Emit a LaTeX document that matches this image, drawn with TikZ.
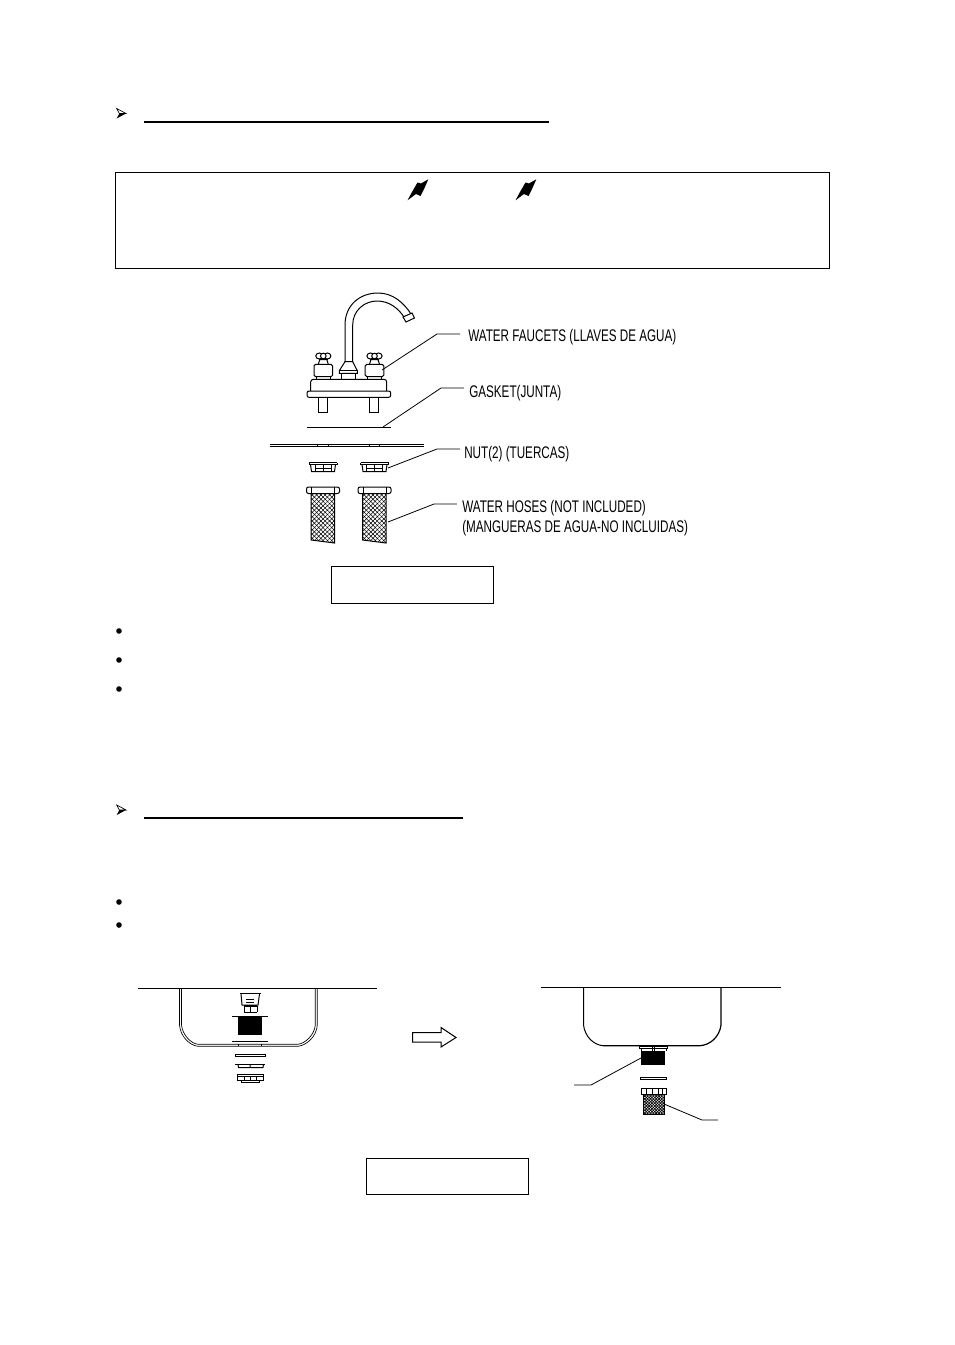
\documentclass[tikz,border=0pt]{standalone}
\usepackage{fontspec}
\usetikzlibrary{patterns.meta}
\newfontfamily\narrowlabel[FakeStretch=0.695]{Liberation Sans}
\tikzset{
  thin line/.style={line width=0.75pt,black},
  hair/.style={line width=0.5pt,black},
  heavy/.style={line width=1.5pt,black},
  frame box/.style={draw=black,line width=0.7pt,fill=none,inner sep=0pt,rectangle},
  part label/.style={font=\narrowlabel\fontsize{12.6pt}{15pt}\selectfont,anchor=west,inner sep=0pt,align=left,text=black},
  leader/.style={line width=0.6pt,black},
  dot/.style={circle,fill=black,inner sep=0pt,minimum size=4.2pt},
  mesh a/.style={pattern={Lines[angle=45,distance=2.3pt,line width=0.4pt]}},
  mesh b/.style={pattern={Lines[angle=-45,distance=2.3pt,line width=0.4pt]}},
  fine a/.style={pattern={Lines[angle=45,distance=1.5pt,line width=0.55pt]}},
  fine b/.style={pattern={Lines[angle=-45,distance=1.5pt,line width=0.55pt]}},
}
\newcommand{\headmark}[2]{%
  \begin{scope}[shift={(#1,#2)}]
    \draw[hair,fill=white] (-3.3,-5) -- (6,0) -- (-0.7,0) -- cycle;
    \fill[black] (-3.3,5) -- (6,0) -- (-0.7,0) -- cycle;
  \end{scope}}
\newcommand{\bolt}[2]{%
  \fill[black,shift={(#1,#2)}] (28.3,7.3) -- (21,11.5) -- (17.5,10.5) -- (12,20) -- (7.5,28.3) -- (16,22) -- (20.5,24) -- (24.5,16) -- cycle;}
\newcommand{\handle}[1]{%
  \begin{scope}[shift={(#1,0)},thin line]
    \draw[rounded corners=1.2pt] (-9.3,376.7) rectangle (9.3,364.3);
    \draw (-7,379.3) -- (-7,376.7) (7,379.3) -- (7,376.7);
    \draw (-5,364.3) -- (-3.5,359.5) -- (3.5,359.5) -- (5,364.3);
    \draw (-4.5,359.5) -- (4.5,359.5);
    \draw (-4,356) ellipse (3.6 and 3);
    \draw (4,356) ellipse (3.6 and 3);
    \draw[fill=white] (0,356) circle (2.8);
  \end{scope}}
\newcommand{\nutpart}[1]{%
  \begin{scope}[shift={(#1,0)},thin line]
    \draw[line width=0.9pt] (-14,462.5) -- (14,462.5);
    \draw (-14,462.5) -- (-14,464.5) -- (14,464.5) -- (14,462.5);
    \draw (-12.5,464.5) -- (-11.5,471.5) -- (11.5,471.5) -- (12.5,464.5);
    \draw (-8,464.5) -- (-8,471.5) (8,464.5) -- (8,471.5) (0,464.5) -- (0,471.5) (-8,468) -- (8,468);
  \end{scope}}
\newcommand{\hosepart}[1]{%
  \begin{scope}[shift={(#1,0)},thin line]
    \draw[rounded corners=1.5pt] (-16,487) rectangle (17,493.5);
    \draw (-11,487) -- (-11,493.5) (12,487) -- (12,493.5);
    \path[mesh a] (-11.5,493.5) -- (12,493.5) -- (12,543) -- (-11.5,540) -- cycle;
    \path[mesh b] (-11.5,493.5) -- (12,493.5) -- (12,543) -- (-11.5,540) -- cycle;
    \draw (-11.5,493.5) -- (-11.5,540) -- (12,543) -- (12,493.5);
  \end{scope}}
\begin{document}
\begin{tikzpicture}[x=0.75pt,y=-0.75pt]
\useasboundingbox[fill=white] (0,0) rectangle (954,1345);

% --- headers
\headmark{120}{113.5}
\draw[heavy] (144,121.5) -- (549,121.5);
\headmark{120}{810}
\draw[heavy] (144,817.5) -- (463,817.5);

% --- warning box
\node[frame box,minimum width=535.6pt,minimum height=72pt] (warnbox) at (472.6,220.5) {};
\bolt{400}{172}
\bolt{508}{172}

% --- faucet
\draw[thin line] (345,362) -- (345,325) .. controls (345,305) and (360,293) .. (378,293) .. controls (393,293) and (404,303) .. (411,314);
\draw[thin line] (352.7,362) -- (352.7,325) .. controls (352.7,310) and (365,301) .. (377,301) .. controls (389,301) and (398,308) .. (404,317);
\draw[thin line] (403,317) -- (412,313) -- (414.5,318) -- (406,322) -- cycle;
\draw[thin line] (345,361.7) -- (339.3,370.7) -- (339.3,373.3) -- (357.3,373.3) -- (357.3,370.7) -- (352.7,361.7) -- cycle;
\draw[thin line] (339.3,370.7) -- (357.3,370.7);
\draw[thin line] (341.7,373.3) -- (341.7,379.3) (355,373.3) -- (355,379.3);
\handle{323.3}
\handle{374.5}
\draw[thin line,rounded corners=2pt] (310.7,391) -- (310.7,379.3) -- (386.7,379.3) -- (386.7,391);
\draw[thin line,rounded corners=1.5pt] (307,391) rectangle (390.7,397.3);
\draw[thin line] (318.3,397.3) rectangle (327.3,412.7);
\draw[thin line] (369.3,397.3) rectangle (378.3,412.7);
\draw[line width=1.2pt] (307,427.5) -- (391,427.5);
% counter top
\draw[thin line] (269.5,444.5) -- (423.5,444.5);
\draw[hair] (269.5,446) -- (423.5,446);
\draw[hair] (317.5,444.5) -- (317.5,446) (328,444.5) -- (328,446) (369,444.5) -- (369,446) (379,444.5) -- (379,446);
\nutpart{323}
\nutpart{374.5}
\hosepart{322.5}
\hosepart{374}

% --- labels
\node[part label] (lwater) at (468,337.5) {WATER FAUCETS (LLAVES DE AGUA)};
\node[part label] (lgasket) at (469,393.5) {GASKET(JUNTA)};
\node[part label] (lnut) at (464,454.5) {NUT(2) (TUERCAS)};
\node[part label] (lhose) at (462,518) {WATER HOSES (NOT INCLUDED)\\(MANGUERAS DE AGUA-NO INCLUIDAS)};
\coordinate (pwater) at (382,370);
\coordinate (ewater) at (437,334);
\coordinate (pgasket) at (383,427);
\coordinate (egasket) at (441,388);
\coordinate (pnut) at (388,468);
\coordinate (enut) at (437,449);
\coordinate (phose) at (388,522);
\coordinate (ehose) at (434,504);
\draw[leader] (pwater) -- (ewater) -- ([xshift=-6pt]lwater.west |- ewater);
\draw[leader] (pgasket) -- (egasket) -- ([xshift=-3.8pt]lgasket.west |- egasket);
\draw[leader] (pnut) -- (enut) -- ([xshift=-3pt]lnut.west |- enut);
\draw[leader] (phose) -- (ehose) -- ([xshift=-3.8pt]lhose.west |- ehose);

\node[frame box,minimum width=121.5pt,minimum height=27.75pt] (figa) at (412,584.5) {};

% --- bullets
\node[dot] (b1) at (119,631) {};
\node[dot] (b2) at (119,660) {};
\node[dot] (b3) at (119,689) {};
\node[dot] (b4) at (119,902) {};
\node[dot] (b5) at (119,925) {};

% --- left sink
\draw[thin line] (138,988) -- (377,988);
\draw[hair] (179.5,988) -- (179.5,1025) .. controls (180.5,1037) and (190,1045.5) .. (198,1046.3) -- (298,1046.3) .. controls (306,1045.5) and (316.5,1037) .. (317.3,1025) -- (317.3,988);
\draw[hair] (181.5,988) -- (181.5,1025) .. controls (182.5,1035) and (191,1043.5) .. (198,1044.3) -- (298,1044.3) .. controls (305,1043.5) and (314.5,1035) .. (315.3,1025) -- (315.3,988);
\draw[line width=0.9pt] (240,993.5) -- (261,993.5);
\draw[thin line] (241,994) -- (242,1005) -- (258,1005) -- (259.5,994);
\draw[line width=0.9pt] (246,999.5) -- (254,999.5) (246,1002.5) -- (254,1002.5);
\draw[line width=0.9pt] (244,1006) -- (257,1006);
\draw[thin line] (244,1006) -- (244,1012) (250,1006) -- (250,1012) (257,1006) -- (257,1012) (244,1012) -- (257,1012);
\draw[line width=1.2pt] (232,1016.5) -- (268,1016.5);
\fill[black] (238,1016) rectangle (262,1035);
\draw[thin line] (232,1041.3) -- (268,1041.3);
\draw[hair] (238.3,1044.3) -- (238.3,1046.3) (261.3,1044.3) -- (261.3,1046.3);
\draw[thin line] (235.5,1054) rectangle (265,1056.7);
\draw[line width=1.1pt] (235,1064.3) -- (265,1064.3);
\draw[thin line] (238,1064.5) -- (238.5,1067.5) -- (263,1067.5) -- (263.5,1064.5) (250,1064.5) -- (250,1067.5);
\draw[thin line] (237.5,1074.5) rectangle (263,1080);
\draw[thin line] (237.5,1076.5) -- (263,1076.5) (244,1076.5) -- (244,1080) (250,1076.5) -- (250,1080) (256.5,1076.5) -- (256.5,1080);
\draw[thin line] (241,1080) -- (241,1082.5) -- (259,1082.5) -- (259,1080);

% --- arrow between sinks
\draw[thin line,fill=white] (412.5,1032.5) -- (441,1032.5) -- (441,1027.5) -- (456,1037.5) -- (441,1047) -- (441,1042) -- (412.5,1042) -- cycle;

% --- right sink
\draw[thin line] (541,987.5) -- (781,987.5);
\draw[thin line] (583.5,987.5) -- (583.5,1025) .. controls (585,1037) and (594,1045) .. (603,1045.7);
\draw[line width=0.9pt] (603,1045.7) -- (700,1045.7) .. controls (710,1045) and (719.5,1037) .. (721,1025) -- (721,987.5);
\draw[line width=1.1pt] (638.7,1046.5) -- (668,1046.5);
\draw[thin line] (639,1046.5) -- (639,1048.5) -- (667.5,1048.5) -- (667.5,1046.5);
\draw[hair] (652,1047) -- (652,1051) (654,1047) -- (654,1051);
\draw[thin line] (641,1048.5) -- (641,1051) (666,1048.5) -- (666,1051);
\fill[black] (641,1051) rectangle (665,1065);
\draw[thin line] (640.3,1077.2) rectangle (666,1079.7);
\draw[thin line,fill=white] (641.5,1088.5) rectangle (666,1094);
\draw[line width=0.9pt] (641.5,1088.5) -- (666,1088.5);
\draw[thin line] (646,1089) -- (646,1094) (652,1089) -- (652,1094) (658,1089) -- (658,1094) (662,1089) -- (662,1094);
\path[fine a] (643.5,1094) rectangle (664,1114.5);
\path[fine b] (643.5,1094) rectangle (664,1114.5);
\draw[thin line] (643.5,1094) -- (643.5,1114.5) -- (664,1114.5) -- (664,1094);
\coordinate (pdrain) at (641,1058);
\coordinate (mdrain) at (591,1085);
\coordinate (edrain) at (574,1085);
\coordinate (pmesh) at (664,1104);
\coordinate (mmesh) at (702,1120);
\coordinate (emesh) at (718,1120);
\draw[leader] (pdrain) -- (mdrain) -- (edrain);
\draw[leader] (pmesh) -- (mmesh) -- (emesh);

\node[frame box,minimum width=121.5pt,minimum height=27pt] (figb) at (447,1176) {};
\end{tikzpicture}
\end{document}
